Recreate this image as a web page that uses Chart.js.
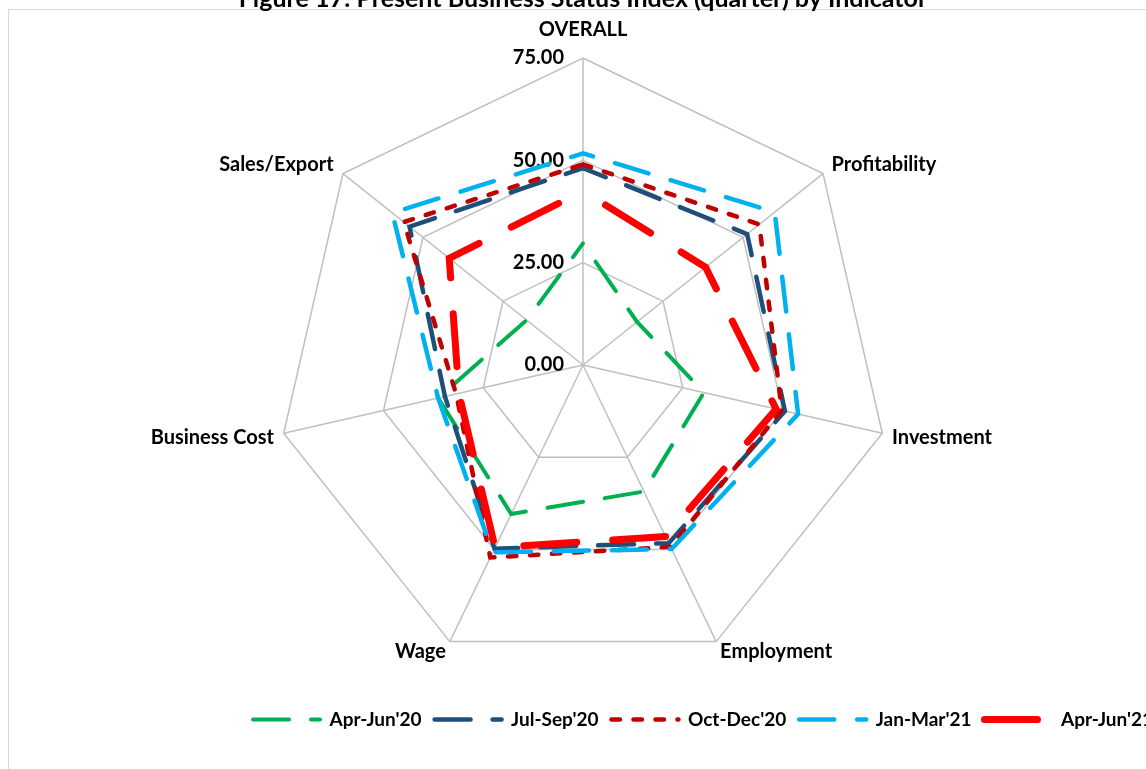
<!DOCTYPE html>
<html>
<head>
<meta charset="utf-8">
<title>Present Business Status Index</title>
<script src="https://cdn.jsdelivr.net/npm/chart.js@4"></script>
<style>
  html, body { margin: 0; padding: 0; background: #fff; overflow: hidden; }
  #wrap { position: relative; width: 1146px; height: 769px; overflow: hidden; }
  #frame { position: absolute; left: 8px; top: 9px; width: 1300px; height: 900px;
           border: 1.5px solid #d9d9d9; box-sizing: border-box; }
  #chart { position: absolute; left: 0; top: 0; }
</style>
</head>
<body>
<div id="wrap">
  <div id="frame"></div>
  <canvas id="chart" width="1146" height="769"></canvas>
</div>
<script>
// Indicators (radar axes) and survey quarters
const indicators = ['OVERALL', 'Profitability', 'Investment', 'Employment', 'Wage', 'Business Cost', 'Sales/Export'];
const quarters = ["Apr-Jun'20", "Jul-Sep'20", "Oct-Dec'20", "Jan-Mar'21", "Apr-Jun'21"];

// Index values per quarter, in the order of `indicators`
const aprJun20 = [29.7, 16.9, 30.3, 34.3, 40.4, 36.3, 17.6];
const julSep20 = [48.1, 51.3, 50.6, 48.3, 49.8, 34.6, 54.2];
const octDec20 = [49.0, 55.1, 49.8, 49.3, 52.2, 31.8, 56.0];
const janMar21 = [51.7, 59.9, 53.9, 49.9, 50.8, 36.3, 59.6];
const aprJun21 = [42.5, 38.3, 48.4, 46.5, 49.5, 31.1, 41.8];

// Radial axis range and tick step
const axisMin = 0;
const axisMax = 75;
const axisStep = 25;

// Distance of each axis label from the outer ring
const labelPadding = [26, 11, 10, 9, 9, 10, 12];

const FONT = 'Lato, "Open Sans", sans-serif';

// Line style of each series: colour, width, dash pattern and dash phase
const series = [
  { label: quarters[0], data: aprJun20, color: '#00B050', width: 4,   dash: [36, 22],    phase: 36,   order: 4 },
  { label: quarters[1], data: julSep20, color: '#1F4E79', width: 4.5, dash: [36, 22],    phase: 11.5, order: 3 },
  { label: quarters[2], data: octDec20, color: '#C00000', width: 4.5, dash: [8.5, 13.5], phase: 0,    order: 2 },
  { label: quarters[3], data: janMar21, color: '#00B0F0', width: 4.5, dash: [35, 23],    phase: 24.5, order: 1 },
  { label: quarters[4], data: aprJun21, color: '#FF0000', width: 7,   dash: [53, 36],    phase: 62.5, order: 0 }
];

const datasets = series.map(s => ({
  label: s.label,
  data: s.data,
  borderColor: s.color,
  backgroundColor: 'rgba(0,0,0,0)',
  borderWidth: s.width,
  borderDash: s.dash,
  borderDashOffset: s.phase,
  borderCapStyle: 'round',
  borderJoinStyle: 'miter',
  fill: false,
  tension: 0,
  pointRadius: 0,
  pointHoverRadius: 0,
  order: s.order
}));

// Value labels of the rings, drawn right-aligned just left of the vertical axis
const ringLabels = {
  id: 'ringLabels',
  beforeDatasetsDraw(chart) {
    const r = chart.scales.r;
    const ctx = chart.ctx;
    ctx.save();
    ctx.font = 'bold 20px ' + FONT;
    ctx.fillStyle = '#000';
    ctx.textAlign = 'right';
    ctx.textBaseline = 'middle';
    r.ticks.forEach(t => {
      const d = r.getDistanceFromCenterForValue(t.value);
      ctx.fillText(t.label, r.xCenter - 19, r.yCenter - d);
    });
    ctx.restore();
  }
};

// Legend row placed below the plot, starting from the left
const legendPlacement = {
  id: 'legendPlacement',
  afterLayout(chart) {
    const lg = chart.legend;
    if (!lg) return;
    const pad = lg.options.labels.padding;
    const dx = (253 - pad) - lg.left;
    const dy = (710 - pad) - lg.top;
    lg.left += dx; lg.right += dx;
    lg.top += dy; lg.bottom += dy;
  }
};

// Legend samples use each series' own line style (dash, cap, width)
function legendItems(chart) {
  const items = Chart.defaults.plugins.legend.labels.generateLabels(chart);
  items.forEach(it => {
    const ds = chart.data.datasets[it.datasetIndex];
    it.pointStyle = 'line';
    it.strokeStyle = ds.borderColor;
    it.lineWidth = ds.borderWidth;
    it.lineDash = ds.borderDash;
    it.lineDashOffset = 0;
    it.lineCap = ds.borderCapStyle;
  });
  return items;
}

new Chart(document.getElementById('chart'), {
  type: 'radar',
  data: { labels: indicators, datasets: datasets },
  options: {
    responsive: false,
    devicePixelRatio: 1,
    animation: false,
    events: [],
    layout: { padding: { left: 20, right: 0, top: 0, bottom: 40 } },
    scales: {
      r: {
        min: axisMin,
        max: axisMax,
        startAngle: 0,
        beginAtZero: true,
        ticks: {
          stepSize: axisStep,
          display: false,
          callback: v => Number(v).toFixed(2)
        },
        grid: { color: '#BFBFBF', lineWidth: 1.5, circular: false },
        angleLines: { color: '#BFBFBF', lineWidth: 1.5 },
        pointLabels: {
          color: '#000',
          font: { family: FONT, size: 20, weight: 'bold', lineHeight: 0.2 },
          padding: c => labelPadding[c.index]
        }
      }
    },
    plugins: {
      title: {
        display: true,
        text: 'Figure 17: Present Business Status Index (quarter) by Indicator',
        color: '#000',
        font: { family: FONT, size: 25, weight: 'bold', lineHeight: 1.2 },
        padding: { top: -16, bottom: -1 }
      },
      legend: {
        display: true,
        position: 'bottom',
        align: 'start',
        labels: {
          usePointStyle: true,
          pointStyle: 'line',
          pointStyleWidth: 67,
          padding: 13,
          boxHeight: 19,
          color: '#000',
          font: { family: FONT, size: 19, weight: 'bold', lineHeight: 1.2 },
          generateLabels: legendItems,
          sort: (a, b) => a.datasetIndex - b.datasetIndex
        }
      },
      tooltip: { enabled: false }
    }
  },
  plugins: [ringLabels, legendPlacement]
});
</script>
</body>
</html>
